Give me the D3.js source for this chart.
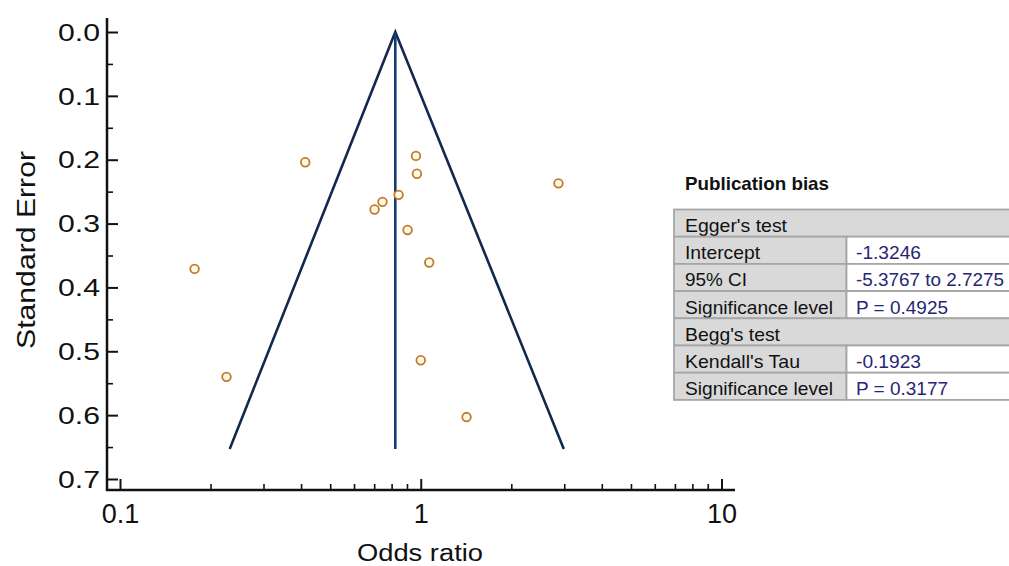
<!DOCTYPE html>
<html>
<head>
<meta charset="utf-8">
<script src="https://cdn.jsdelivr.net/npm/d3@7"></script>
<style>
  html, body { margin: 0; padding: 0; background: #fff; }
  svg { display: block; font-family: "Liberation Sans", Arial, sans-serif; }
</style>
</head>
<body>
<svg id="chart" width="1009" height="566"></svg>
<script>
// ---- Data ----
const studyOR = [0.413, 0.964, 0.971, 0.844, 0.746, 0.702, 0.904, 1.067, 0.177, 0.226, 1.00, 1.42, 2.87];
const studySE = [0.204, 0.194, 0.222, 0.255, 0.266, 0.278, 0.310, 0.361, 0.371, 0.540, 0.514, 0.603, 0.237];
const funnelOR = [0.2316, 0.823, 2.99];
const funnelSE = [0.653, 0.0, 0.653];
const centerOR = [0.823, 0.823];
const centerSE = [0.0, 0.653];
const xTickValues = [0.1, 1, 10];
const xTickLabels = ["0.1", "1", "10"];
const yTickValues = [0.0, 0.1, 0.2, 0.3, 0.4, 0.5, 0.6, 0.7];
const tableTitle = "Publication bias";
const tableLabels = ["Egger's test", "Intercept", "95% CI", "Significance level", "Begg's test", "Kendall's Tau", "Significance level"];
const tableValues = [null, "-1.3246", "-5.3767 to 2.7275", "P = 0.4925", null, "-0.1923", "P = 0.3177"];

// ---- Layout ----
const svg = d3.select("#chart");
const x = d3.scaleLog().domain([0.1, 10]).range([120, 721.5]);
const y = d3.scaleLinear().domain([0, 0.7]).range([32, 479]);
const axisX0 = 107, axisY0 = 490;
const ink = "#111";

// approximate text widths in the reference (stretched raster text)
function fitText(sel, len) {
  sel.attr("textLength", len).attr("lengthAdjust", "spacingAndGlyphs");
}

// axes lines
svg.append("line").attr("x1", axisX0).attr("x2", axisX0).attr("y1", 18).attr("y2", axisY0 + 1)
  .attr("stroke", ink).attr("stroke-width", 2.5);
svg.append("line").attr("x1", axisX0 - 1).attr("x2", 735).attr("y1", axisY0).attr("y2", axisY0)
  .attr("stroke", ink).attr("stroke-width", 2.5);

// Y axis (ticks inward)
const yMinor = d3.range(0.05, 0.7, 0.1);
const gy = svg.append("g").attr("transform", `translate(${axisX0},0)`)
  .call(d3.axisRight(y).tickValues(yTickValues).tickSize(11).tickFormat(d3.format(".1f")));
gy.select(".domain").remove();
gy.selectAll(".tick line").attr("stroke", ink).attr("stroke-width", 2);
gy.selectAll(".tick text").attr("x", -7).attr("text-anchor", "end").attr("dy", "0.36em")
  .attr("font-size", 23).attr("fill", ink).attr("font-family", "Liberation Sans, Arial, sans-serif")
  .call(fitText, 42);
const gyMinor = svg.append("g").attr("transform", `translate(${axisX0},0)`)
  .call(d3.axisRight(y).tickValues(yMinor).tickSize(6).tickFormat(""));
gyMinor.select(".domain").remove();
gyMinor.selectAll(".tick line").attr("stroke", ink).attr("stroke-width", 1.6);

// X axis (ticks upward)
const xMinor = [];
[0.1, 1].forEach(d => { for (let k = 2; k <= 9; k++) xMinor.push(d * k); });
const gx = svg.append("g").attr("transform", `translate(0,${axisY0})`)
  .call(d3.axisTop(x).tickValues(xTickValues).tickSize(11).tickFormat((d, i) => xTickLabels[i]));
gx.select(".domain").remove();
gx.selectAll(".tick line").attr("stroke", ink).attr("stroke-width", 2);
gx.selectAll(".tick text").attr("y", 33).attr("dy", 0).attr("font-size", 27).attr("fill", ink)
  .attr("font-family", "Liberation Sans, Arial, sans-serif");
const gxMinor = svg.append("g").attr("transform", `translate(0,${axisY0})`)
  .call(d3.axisTop(x).tickValues(xMinor).tickSize(6).tickFormat(""));
gxMinor.select(".domain").remove();
gxMinor.selectAll(".tick line").attr("stroke", ink).attr("stroke-width", 1.6);

// axis titles
svg.append("text").attr("x", 420).attr("y", 561).attr("text-anchor", "middle")
  .attr("font-size", 23).attr("fill", ink).text("Odds ratio").call(fitText, 126);
svg.append("text").attr("transform", "translate(35,250) rotate(-90)").attr("text-anchor", "middle")
  .attr("font-size", 25).attr("fill", ink).text("Standard Error").call(fitText, 198);

// funnel
const line = d3.line().x(d => x(d[0])).y(d => y(d[1]));
svg.append("path").datum(funnelOR.map((d, i) => [d, funnelSE[i]]))
  .attr("d", line).attr("fill", "none").attr("stroke", "#13284f").attr("stroke-width", 2.6)
  .attr("stroke-linejoin", "miter");
svg.append("path").datum(centerOR.map((d, i) => [d, centerSE[i]]))
  .attr("d", line).attr("fill", "none").attr("stroke", "#173b6e").attr("stroke-width", 2.6);

// study points
svg.append("g").selectAll("circle").data(studyOR.map((d, i) => [d, studySE[i]])).join("circle")
  .attr("cx", d => x(d[0])).attr("cy", d => y(d[1])).attr("r", 4.3)
  .attr("fill", "#fffbe8").attr("stroke", "#c27a2a").attr("stroke-width", 1.8);

// table
const tX = 674, tTop = 209.5, rowH = 27.2, col1 = 172.5, tRight = 1012;
const labelW = [102, 75, 62, 148, 95, 115, 148];
const valueW = [0, 65, 148, 92, 0, 65, 92];
svg.append("text").attr("x", 685).attr("y", 190).attr("font-size", 18.5).attr("font-weight", "bold")
  .attr("fill", ink).text(tableTitle).call(fitText, 144);
const tg = svg.append("g");
tableLabels.forEach((lab, i) => {
  const yy = tTop + i * rowH;
  const val = tableValues[i];
  if (val === null) {
    tg.append("rect").attr("x", tX).attr("y", yy).attr("width", tRight - tX).attr("height", rowH)
      .attr("fill", "#d9d9d9").attr("stroke", "#a6a6a6").attr("stroke-width", 1.8);
  } else {
    tg.append("rect").attr("x", tX).attr("y", yy).attr("width", col1).attr("height", rowH)
      .attr("fill", "#d9d9d9").attr("stroke", "#a6a6a6").attr("stroke-width", 1.8);
    tg.append("rect").attr("x", tX + col1).attr("y", yy).attr("width", tRight - tX - col1).attr("height", rowH)
      .attr("fill", "#ffffff").attr("stroke", "#a6a6a6").attr("stroke-width", 1.8);
    tg.append("text").attr("x", 856).attr("y", yy + 22.5).attr("font-size", 18.5)
      .attr("fill", "#262673").text(val).call(fitText, valueW[i]);
  }
  tg.append("text").attr("x", 685).attr("y", yy + 22.5).attr("font-size", 18.5).attr("fill", ink)
    .text(lab).call(fitText, labelW[i]);
});
</script>
</body>
</html>
